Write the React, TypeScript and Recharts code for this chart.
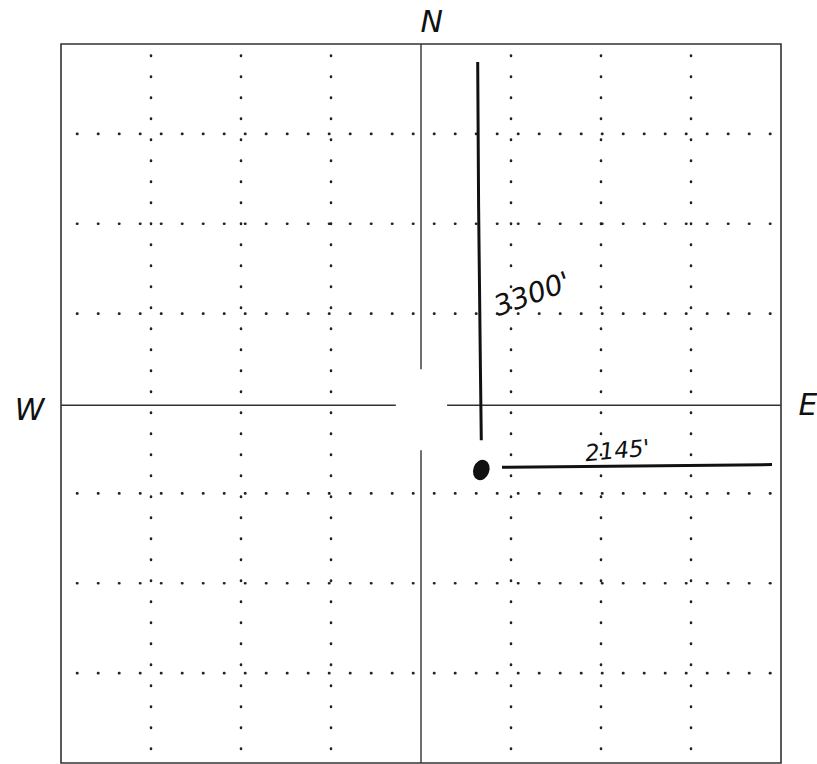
import React from "react";
import {
  ComposedChart,
  XAxis,
  YAxis,
  Scatter,
  ReferenceLine,
  ReferenceArea,
  ReferenceDot,
} from "recharts";

// section grid, in 1/8 section units (0..8 each way)
const gridTicks = [1, 2, 3, 5, 6, 7];
const centerX = 4;
const centerY = 4;
// quarter lines break around the centre of the section
const centerVSegments = [
  [8, 4.38],
  [3.48, 0],
];
const centerHSegments = [
  [0, 3.72],
  [4.29, 8],
];

// footage lines and well spot
const northLine = [
  { x: 4.63, y: 7.8 },
  { x: 4.64, y: 6.2 },
  { x: 4.66, y: 4.4 },
  { x: 4.67, y: 3.59 },
];
const eastLine = [
  { x: 4.9, y: 3.29 },
  { x: 7.9, y: 3.32 },
];
const wellSpot = [{ x: 4.67, y: 3.26 }];

const footageLabels = [
  { text: "3300'", x: 5.27, y: 5.12, size: 28, rotate: -20 },
  { text: "2145'", x: 6.19, y: 3.39, size: 23, rotate: -5 },
];
const compassLabels = [
  { text: "N", x: 4.12, y: 8.25 },
  { text: "W", x: -0.35, y: 3.93 },
  { text: "E", x: 8.3, y: 3.99 },
];

const ink = "#111";
const hand = "'DejaVu Sans', sans-serif";

const App = () => {
  return (
    <div style={{ position: "absolute", left: 0, top: 0, width: 817, height: 764, background: "#fff" }}>
      <ComposedChart
        width={817}
        height={764}
        margin={{ top: 44, right: 36, left: 61, bottom: 1 }}
      >
        <XAxis type="number" dataKey="x" domain={[0, 8]} hide allowDataOverflow />
        <YAxis type="number" dataKey="y" domain={[0, 8]} hide allowDataOverflow />

        {gridTicks.map((t) => (
          <ReferenceLine
            key={"v" + t}
            x={t}
            stroke="#222"
            strokeWidth={2.6}
            strokeLinecap="round"
            strokeDasharray="0.4 20.6"
            strokeDashoffset={-14}
          />
        ))}
        {gridTicks.map((t) => (
          <ReferenceLine
            key={"h" + t}
            y={t}
            stroke="#222"
            strokeWidth={2.6}
            strokeLinecap="round"
            strokeDasharray="0.4 20.6"
            strokeDashoffset={-16}
          />
        ))}

        <ReferenceArea x1={0} x2={8} y1={0} y2={8} fill="none" stroke="#333" strokeWidth={1.6} />

        {centerVSegments.map((s, i) => (
          <ReferenceLine
            key={"cv" + i}
            segment={[
              { x: centerX, y: s[0] },
              { x: centerX, y: s[1] },
            ]}
            stroke="#333"
            strokeWidth={1.4}
          />
        ))}
        {centerHSegments.map((s, i) => (
          <ReferenceLine
            key={"ch" + i}
            segment={[
              { x: s[0], y: centerY - 0.02 },
              { x: s[1], y: centerY - 0.02 },
            ]}
            stroke="#333"
            strokeWidth={1.4}
          />
        ))}

        <Scatter
          data={northLine}
          line={{ stroke: ink, strokeWidth: 3 }}
          shape={() => <g />}
          isAnimationActive={false}
        />
        <Scatter
          data={eastLine}
          line={{ stroke: ink, strokeWidth: 3 }}
          shape={() => <g />}
          isAnimationActive={false}
        />
        <Scatter
          data={wellSpot}
          fill={ink}
          isAnimationActive={false}
          shape={(p: any) => (
            <ellipse
              cx={p.cx}
              cy={p.cy}
              rx={8}
              ry={10.5}
              fill={ink}
              transform={`rotate(20 ${p.cx} ${p.cy})`}
            />
          )}
        />

        {footageLabels.map((l) => (
          <ReferenceDot
            key={l.text}
            x={l.x}
            y={l.y}
            r={0}
            ifOverflow="visible"
            shape={(p: any) => (
              <text
                x={p.cx}
                y={p.cy}
                fontFamily={hand}
                fontStyle="italic"
                fontSize={l.size}
                fill={ink}
                textAnchor="middle"
                transform={`rotate(${l.rotate} ${p.cx} ${p.cy})`}
              >
                {l.text}
              </text>
            )}
          />
        ))}
        {compassLabels.map((l) => (
          <ReferenceDot
            key={l.text}
            x={l.x}
            y={l.y}
            r={0}
            ifOverflow="visible"
            shape={(p: any) => (
              <text
                x={p.cx}
                y={p.cy}
                fontFamily={hand}
                fontStyle="italic"
                fontSize={30}
                fill={ink}
                textAnchor="middle"
                dominantBaseline="central"
              >
                {l.text}
              </text>
            )}
          />
        ))}
      </ComposedChart>
    </div>
  );
};

export default App;
